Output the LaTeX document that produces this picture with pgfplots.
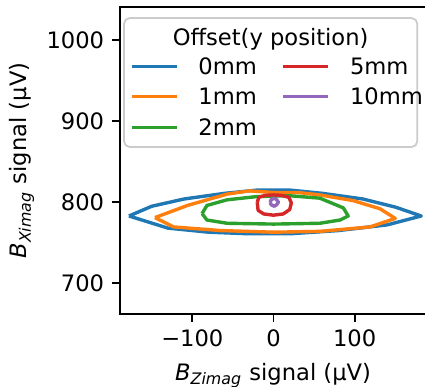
\documentclass[border=0pt]{standalone}
\usepackage{fontspec}
\setmainfont{DejaVu Sans}
\usepackage{pgfplots}
\pgfplotsset{compat=1.18}
\definecolor{c0}{HTML}{1F77B4}
\definecolor{c1}{HTML}{FF7F0E}
\definecolor{c2}{HTML}{2CA02C}
\definecolor{c3}{HTML}{D62728}
\definecolor{c4}{HTML}{9467BD}
\begin{document}
\begin{tikzpicture}
\begin{axis}[
  name=ax, scale only axis, width=135.4pt, height=135.8pt,
  xmin=-189, xmax=188, ymin=662, ymax=1041,
  axis line style={line width=0.8pt, black},
  tick style={line width=0.8pt, black},
  major tick length=3.5pt,
  tick align=outside, xtick pos=left, ytick pos=left,
  xtick={-100,0,100}, xticklabels={−100,0,100},
  ytick={700,800,900,1000}, yticklabels={700,800,900,1000},
  every axis x label/.style={at={(axis description cs:0.5,0)}, anchor=base, yshift=-29.2pt},
  every axis y label/.style={at={(axis description cs:-0.3205,0.5)}, anchor=center, rotate=90},
  xlabel={\textit{B}\textsubscript{\textit{Zimag}} signal (µV)},
  ylabel={\textit{B}\textsubscript{\textit{Ximag}} signal (µV)},
  legend columns=2,
  legend cell align=left,
  legend image code/.code={\draw[#1] (0pt,0pt) -- (20pt,0pt);},
  legend style={at={(axis description cs:0.0325,0.834)}, anchor=north west, draw=none, fill=none, inner sep=0pt, outer sep=0pt, row sep=6.2pt,
    nodes={inner sep=0pt, text height=7.3pt, text depth=0pt},
    /tikz/every odd column/.append style={column sep=8.8pt},
    /tikz/every even column/.append style={column sep=10.9pt}},
]
\draw[black!20, line width=0.8pt, rounded corners=2.5pt, fill=white, fill opacity=0.8] (axis description cs:0.013,0.964) rectangle (axis description cs:0.971,0.544);
\node[anchor=base] at (axis description cs:0.492,0.876) {Offset(y position)};

\addplot[c0, line width=1.5pt, line join=round, forget plot] coordinates {
(-178,783) (-150,795) (-110,804) (-60,811) (-20,815) (20,815) (60,811) (110,804) (150,794) (182,783)
(140,772) (80,765) (20,761) (-30,761) (-80,763) (-130,768) (-178,783)};
\addplot[c1, line width=1.5pt, line join=round, forget plot] coordinates {
(-146,781) (-106,796) (-57,810) (-30,814) (0,812) (30,812) (57,809) (98,802) (131,792) (150,780)
(119,769.5) (57,764) (0,763) (-65,765) (-123,769.5) (-146,781)};
\addplot[c2, line width=1.5pt, line join=round, forget plot] coordinates {
(-88,786) (-82,796) (-57,803) (-20,807) (20,808) (57,805) (86,793) (92,783) (82,778) (57,774)
(0,773) (-57,774) (-82,778) (-88,786)};
\addplot[c3, line width=1.5pt, line join=round, forget plot] coordinates {
(-20,800) (-18,806) (-10,808.5) (0,809) (10,808.5) (19,806) (22,799) (20,791) (12,785.5) (0,784)
(-12,785.5) (-19,790) (-20,800)};
\addplot[c4, line width=1.5pt, line join=round, forget plot] coordinates {
(-4,800) (-3,803) (1,805) (4,803) (6,800) (4,797) (1,795) (-3,797) (-4,800)};

\addlegendimage{c0, line width=1.5pt}
\addlegendimage{c3, line width=1.5pt}
\addlegendimage{c1, line width=1.5pt}
\addlegendimage{c4, line width=1.5pt}
\addlegendimage{c2, line width=1.5pt}
\legend{0mm,5mm,1mm,10mm,2mm}
\end{axis}
\pgfresetboundingbox
\path[use as bounding box] ([xshift=-53.1pt,yshift=-31.9pt]ax.south west) rectangle ([xshift=-0.5pt,yshift=3.1pt]ax.north east);
\end{tikzpicture}
\end{document}
